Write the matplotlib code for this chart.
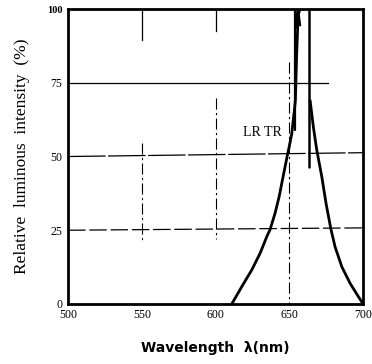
import numpy as np
import matplotlib.pyplot as plt

# spectrum curve
wl_left = [611, 617.8, 624.5, 630.2, 634.7, 637, 640.3, 643.1, 645.3, 647.6, 648.9,
           649.8, 651.7, 653.2, 654.1, 655, 656, 657]
rel_left = [0, 5.9, 11.5, 17.2, 22.8, 25.3, 30.7, 36.4, 42, 47.7, 51,
            53, 57.9, 64.7, 69, 85, 98, 99.7]
wl_peak = [654.3, 655, 656, 657.3]
rel_peak = [93.5, 98.5, 99.7, 94.5]
wl_right = [664.1, 666.3, 668.6, 672, 674.9, 678.1, 681, 685.6, 691.2, 696.8, 700]
rel_right = [69, 60, 52.2, 43.2, 34.1, 25.6, 19.4, 12.6, 7, 2.5, 0]

x_ticks = [500, 550, 600, 650, 700]
y_ticks = [0, 25, 50, 75, 100]
y_tick_labels = ['0', '25', '50', '75', '100']

fig = plt.figure(figsize=(3.72, 3.64), dpi=100)
ax = fig.add_axes([0.183, 0.165, 0.793, 0.81])

# grid-ish lines from the original print
ax.plot([500, 676], [75, 75], color='black', lw=0.9)
ax.plot([500, 700], [50, 51.3], color='black', lw=0.9, ls=(0, (30, 2)))
ax.plot([500, 700], [25, 25.8], color='black', lw=0.9, ls=(0, (14, 3)))
ax.plot([550, 550], [100, 89.5], color='black', lw=0.9)
ax.plot([550, 550], [54.5, 21.7], color='black', lw=0.8, ls=(0, (10, 3, 2, 3)))
ax.plot([600, 600], [100, 92.5], color='black', lw=0.9)
ax.plot([600, 600], [70, 22], color='black', lw=0.8, ls=(0, (10, 3, 2, 3)))
ax.plot([650, 650], [82, 0], color='black', lw=0.8, ls=(0, (10, 3, 2, 3)))

# spectral curve
kw = dict(color='black', solid_joinstyle='round', solid_capstyle='round')
ax.plot(wl_left, rel_left, lw=2, **kw)
ax.plot(wl_peak, rel_peak, lw=1.6, **kw)
ax.plot([654, 654], [100, 59], lw=1.6, **kw)
ax.plot([663.4, 663.4], [100, 46.5], lw=1.8, **kw)
ax.plot(wl_right, rel_right, lw=2, **kw)

ax.text(632, 58, 'LR TR', family='Liberation Serif', fontsize=10, ha='center', va='center')

ax.set_xlim(500, 700)
ax.set_ylim(0, 100)
ax.set_xticks(x_ticks)
ax.set_xticklabels([str(v) for v in x_ticks], family='Liberation Serif', fontsize=8.5)
ax.set_yticks(y_ticks)
ax.set_yticklabels(y_tick_labels, family='Liberation Serif', fontsize=8.5)
ax.get_yticklabels()[-1].set_fontweight('bold')
ax.get_yticklabels()[-1].set_fontsize(7.5)
ax.tick_params(length=0, pad=4)
for s in ax.spines.values():
    s.set_linewidth(2)

ax.set_ylabel('Relative  luminous  intensity  (%)', family='Liberation Serif', fontsize=12.5, labelpad=12)
ax.set_xlabel('Wavelength  λ(nm)', family='DejaVu Sans', fontsize=10, fontweight='bold', labelpad=14)

fig.savefig('out.png', dpi=100)
